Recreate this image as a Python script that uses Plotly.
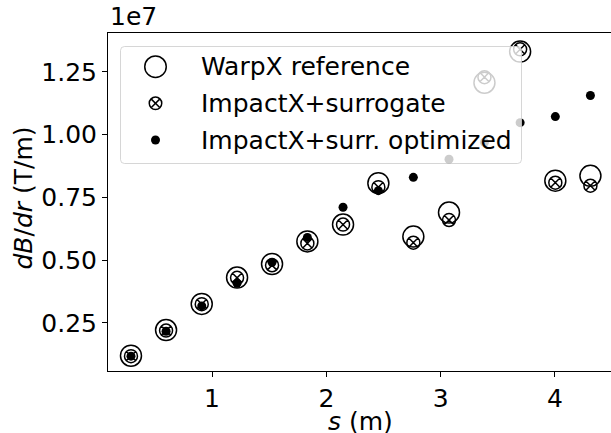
import plotly.graph_objects as go

s_pos = [0.291, 0.598, 0.910, 1.219, 1.525, 1.834, 2.146, 2.455, 2.761, 3.073, 3.383, 3.695, 4.003, 4.310]
warpx = [0.1197e7, 0.222e7, 0.326e7, 0.431e7, 0.485e7, 0.575e7, 0.642e7, 0.807e7, 0.594e7, 0.690e7, 1.207e7, 1.331e7, 0.817e7, 0.836e7]
surrogate = [0.118e7, 0.220e7, 0.325e7, 0.430e7, 0.480e7, 0.567e7, 0.642e7, 0.791e7, 0.570e7, 0.660e7, 1.229e7, 1.340e7, 0.809e7, 0.797e7]
optimized = [0.118e7, 0.217e7, 0.318e7, 0.408e7, 0.492e7, 0.591e7, 0.711e7, 0.777e7, 0.830e7, 0.902e7, 0.970e7, 1.048e7, 1.072e7, 1.156e7]
series_names = ["WarpX reference", "ImpactX+surrogate", "ImpactX+surr. optimized"]
y_ticks = [0.25e7, 0.50e7, 0.75e7, 1.00e7, 1.25e7]
y_tick_labels = ["0.25", "0.50", "0.75", "1.00", "1.25"]
x_ticks = [1, 2, 3, 4]

FONT = "DejaVu Sans"
FS = 25
W, H = 611, 433
ML, MR, MT, MB = 108, 0, 33, 62
PW, PH = W - ML - MR, H - MT - MB


def px(X):
    return (X - ML) / PW


def py(Y):
    return (H - MB - Y) / PH


fig = go.Figure()
fig.add_trace(go.Scatter(x=s_pos, y=warpx, mode="markers", name=series_names[0], showlegend=False,
                         marker=dict(symbol="circle-open", size=21, color="black", line=dict(width=1.5))))
fig.add_trace(go.Scatter(x=s_pos, y=surrogate, mode="markers", name=series_names[1], showlegend=False,
                         marker=dict(symbol="circle-x-open", size=13, color="black", line=dict(width=1.5))))
fig.add_trace(go.Scatter(x=s_pos, y=optimized, mode="markers", name=series_names[2], showlegend=False,
                         marker=dict(symbol="circle", size=9, color="black")))

# manual legend (box + symbols + labels)
shapes = []
bx0, bx1, by0, by1, rad = 120.5, 521.5, 46.5, 163.5, 4
path = (f"M {px(bx0+rad)},{py(by0)} L {px(bx1-rad)},{py(by0)} Q {px(bx1)},{py(by0)} {px(bx1)},{py(by0+rad)} "
        f"L {px(bx1)},{py(by1-rad)} Q {px(bx1)},{py(by1)} {px(bx1-rad)},{py(by1)} "
        f"L {px(bx0+rad)},{py(by1)} Q {px(bx0)},{py(by1)} {px(bx0)},{py(by1-rad)} "
        f"L {px(bx0)},{py(by0+rad)} Q {px(bx0)},{py(by0)} {px(bx0+rad)},{py(by0)} Z")
shapes.append(dict(type="path", xref="paper", yref="paper", path=path, layer="above",
                   fillcolor="rgba(255,255,255,0.8)", line=dict(color="rgba(204,204,204,0.8)", width=1)))
sx = 155.5
rows = [66.7, 103.3, 140.0]


def circ(cx, cy, d, fill=None, lw=1.5):
    r = d / 2
    return dict(type="circle", xref="paper", yref="paper", layer="above",
                x0=px(cx - r), x1=px(cx + r), y0=py(cy + r), y1=py(cy - r),
                fillcolor=fill if fill else "rgba(0,0,0,0)", line=dict(color="black", width=lw))


shapes.append(circ(sx, rows[0], 21.5))
shapes.append(circ(sx, rows[1], 12.5))
k = 4.2
for a, b in [((-k, -k), (k, k)), ((-k, k), (k, -k))]:
    shapes.append(dict(type="line", xref="paper", yref="paper", layer="above",
                       x0=px(sx + a[0]), y0=py(rows[1] + a[1]), x1=px(sx + b[0]), y1=py(rows[1] + b[1]),
                       line=dict(color="black", width=1.5)))
shapes.append(circ(sx, rows[2], 9, fill="black", lw=0))

annotations = []
for name, ry in zip(series_names, rows):
    annotations.append(dict(text=name, xref="paper", yref="paper", x=px(199), y=py(ry),
                            xanchor="left", yanchor="middle", showarrow=False,
                            font=dict(family=FONT, size=FS, color="black")))
annotations.append(dict(text="1e7", x=px(108), y=py(33), xref="paper", yref="paper", xanchor="left",
                        yanchor="bottom", showarrow=False, font=dict(family=FONT, size=FS)))
annotations.append(dict(text="<i>s</i> (m)", x=px(360), y=py(421), xref="paper", yref="paper",
                        xanchor="center", yanchor="middle", showarrow=False, font=dict(family=FONT, size=FS)))
annotations.append(dict(text="<i>dB</i>/<i>dr</i> (T/m)", x=px(22.5), y=py(198), xref="paper", yref="paper",
                        xanchor="center", yanchor="middle", textangle=-90, showarrow=False,
                        font=dict(family=FONT, size=FS)))

fig.update_layout(
    width=W, height=H,
    margin=dict(l=ML, r=MR, t=MT, b=MB),
    plot_bgcolor="white", paper_bgcolor="white",
    font=dict(family=FONT, size=FS, color="black"),
    showlegend=False,
    xaxis=dict(range=[0.09, 4.49], tickvals=x_ticks, showgrid=False, zeroline=False, automargin=False,
               showline=True, linecolor="black", linewidth=1, mirror=True,
               ticks="outside", ticklen=5, tickcolor="black", tickfont=dict(family=FONT, size=FS)),
    yaxis=dict(range=[0.0588e7, 1.405e7], tickvals=y_ticks, ticktext=y_tick_labels, automargin=False,
               showgrid=False, zeroline=False, showline=True, linecolor="black", linewidth=1,
               ticks="outside", ticklen=5, tickcolor="black", tickfont=dict(family=FONT, size=FS)),
    shapes=shapes,
    annotations=annotations,
)
fig.write_html("out.html", config={"displayModeBar": False},
               post_script="document.body.style.margin='0px';document.body.style.overflow='hidden';")
